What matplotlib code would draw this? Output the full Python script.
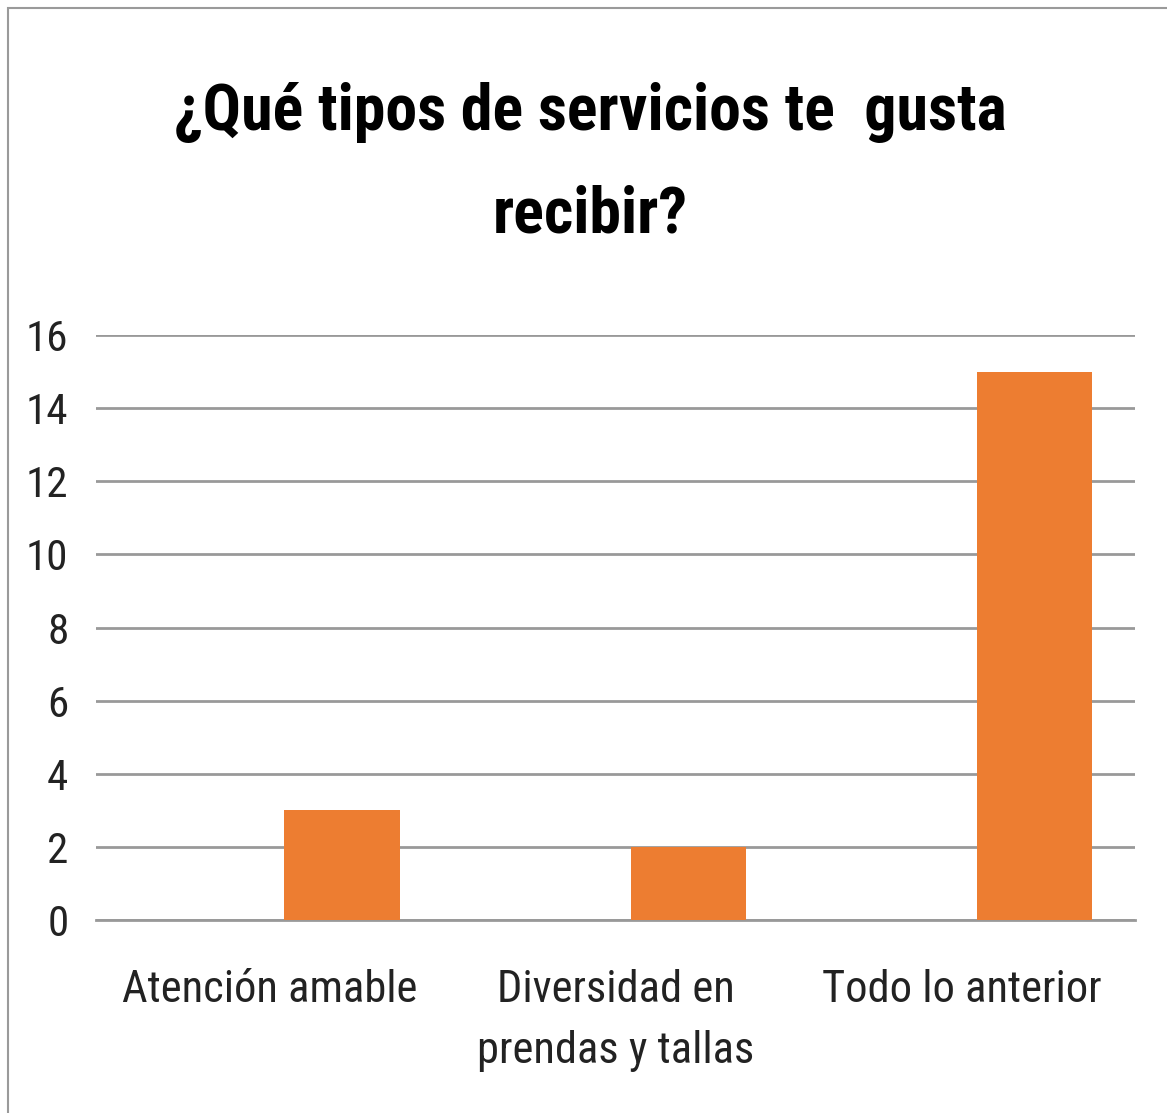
import matplotlib.pyplot as plt
from matplotlib.patches import Rectangle
from matplotlib import font_manager

# Data
categories = ['Atención amable', 'Diversidad en\nprendas y tallas', 'Todo lo anterior']
values = [3, 2, 15]
title = '¿Qué tipos de servicios te  gusta\nrecibir?'

names = {f.name for f in font_manager.fontManager.ttflist}
font = 'Liberation Sans'
for cand in ['Roboto Condensed', 'Liberation Sans Narrow', 'Open Sans Condensed']:
    if cand in names:
        font = cand
        break
plt.rcParams['font.family'] = [font, 'DejaVu Sans']

fig = plt.figure(figsize=(11.67, 11.13), dpi=100)
ax = fig.add_axes([0.0823, 0.1734, 0.8903, 0.5256])

x = list(range(len(categories)))
ax.bar([i + 0.21 for i in x], values, width=0.333, color='#ED7D31', zorder=3)

ax.set_xlim(-0.5, 2.5)
ax.set_ylim(0, 16)
ax.set_yticks(range(0, 17, 2))
ax.set_xticks(x)
ax.set_xticklabels(categories, fontsize=32, linespacing=1.6)
ax.tick_params(axis='y', labelsize=31, length=0, pad=20, colors='#222222')
ax.tick_params(axis='x', length=0, pad=35, colors='#222222')
ax.grid(axis='y', color='#999999', linewidth=2, zorder=0)
for s in ['top', 'right', 'left']:
    ax.spines[s].set_visible(False)
ax.spines['bottom'].set_color('#999999')
ax.spines['bottom'].set_linewidth(2)

fig.text(0.506, 0.853, title, ha='center', va='center', fontsize=46,
         fontweight='bold', linespacing=1.85)

# chart border
fig.patches.append(Rectangle((8 / 1167, -0.01), 1.02, 1 - 8 / 1113 + 0.01,
                             transform=fig.transFigure, fill=False,
                             edgecolor='#9a9a9a', linewidth=1.5))

fig.savefig('out.png', dpi=100)
